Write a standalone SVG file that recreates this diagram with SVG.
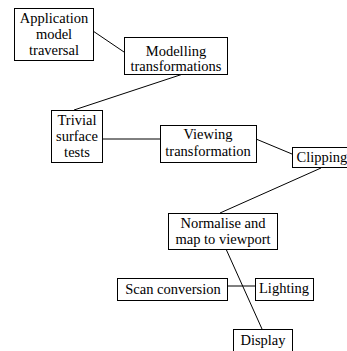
<svg xmlns="http://www.w3.org/2000/svg" width="347" height="351" viewBox="0 0 347 351">
<style>
.box{fill:#fff;stroke:#000;stroke-width:1}
.t{font-size:14.5px;fill:#000;text-anchor:middle}
.c{stroke:#000;stroke-width:1;fill:none}
</style>
<rect width="347" height="351" fill="#fff"/>
<g id="connectors">
<line class="c" x1="93" y1="31" x2="124" y2="52"/>
<line class="c" x1="183" y1="74" x2="74" y2="110"/>
<line class="c" x1="102" y1="139" x2="160" y2="139"/>
<line class="c" x1="256" y1="139" x2="292" y2="154"/>
<line class="c" x1="321" y1="168" x2="220" y2="213"/>
<line class="c" x1="226" y1="249" x2="262" y2="329"/>
<line class="c" x1="227" y1="286" x2="255" y2="286"/>
</g>
<g font-family="Liberation Serif, Times New Roman, DejaVu Serif, serif">
<g id="app"><rect class="box" x="14.5" y="8.5" width="79" height="52"/><text class="t" x="54" y="23">Application</text><text class="t" x="54" y="39">model</text><text class="t" x="54" y="55">traversal</text></g>
<g id="modelling"><rect class="box" x="124.5" y="37.5" width="103" height="37"/><text class="t" x="176" y="56">Modelling</text><text class="t" x="176" y="71">transformations</text></g>
<g id="trivial"><rect class="box" x="51.5" y="110.5" width="51" height="52"/><text class="t" x="77" y="125">Trivial</text><text class="t" x="77" y="141">surface</text><text class="t" x="77" y="157">tests</text></g>
<g id="viewing"><rect class="box" x="160.5" y="125.5" width="96" height="37"/><text class="t" x="208" y="139">Viewing</text><text class="t" x="208" y="156">transformation</text></g>
<g id="clipping"><rect class="box" x="292.5" y="147.5" width="60" height="20"/><text class="t" x="322" y="162">Clipping</text></g>
<g id="normalise"><rect class="box" x="168.5" y="213.5" width="109" height="36"/><text class="t" x="223" y="228">Normalise and</text><text class="t" x="223" y="244">map to viewport</text></g>
<g id="scan"><rect class="box" x="117.5" y="278.5" width="110" height="22"/><text class="t" x="173" y="294">Scan conversion</text></g>
<g id="lighting"><rect class="box" x="255.5" y="278.5" width="58" height="22"/><text class="t" x="284" y="293">Lighting</text></g>
<g id="display"><rect class="box" x="233.5" y="329.5" width="59" height="30"/><text class="t" x="263" y="345">Display</text></g>
</g>
</svg>
